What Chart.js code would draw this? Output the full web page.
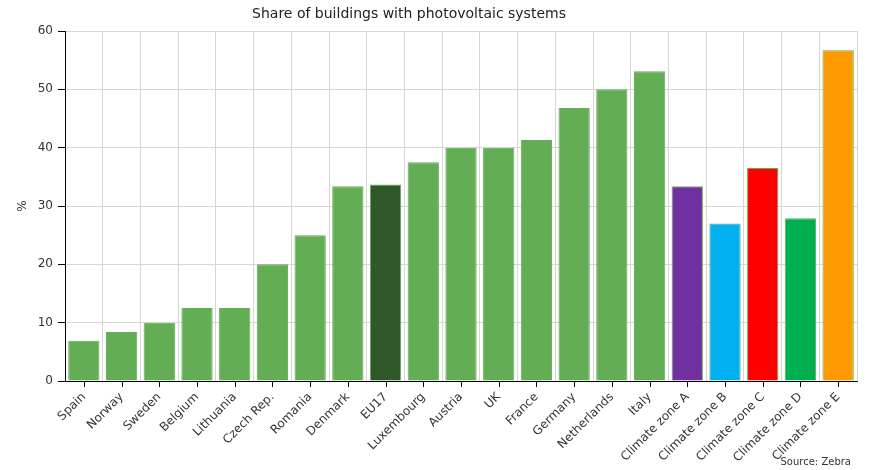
<!DOCTYPE html>
<html><head><meta charset="utf-8">
<script src="https://cdn.jsdelivr.net/npm/chart.js@4"></script>
<style>html,body{margin:0;padding:0;background:#fff}#wrap{width:878px;height:470px;position:relative}</style>
</head><body><div id="wrap"><canvas id="c" width="878" height="470"></canvas></div>
<script>
const categories = ["Spain","Norway","Sweden","Belgium","Lithuania","Czech Rep.","Romania","Denmark","EU17","Luxembourg","Austria","UK","France","Germany","Netherlands","Italy","Climate zone A","Climate zone B","Climate zone C","Climate zone D","Climate zone E"];
const shareValues = [6.9,8.4,10,12.5,12.5,20,25,33.4,33.7,37.5,40,40,41.3,46.8,50,53.1,33.4,27,36.5,27.9,56.7];
const yTicks = [0,10,20,30,40,50,60];
const titleText = "Share of buildings with photovoltaic systems";
const yAxisLabel = "%";
const sourceText = "Source: Zebra";

const barColors = categories.map(c => {
  if (c === "EU17") return "#2f5728";
  if (c === "Climate zone A") return "#7030a0";
  if (c === "Climate zone B") return "#00b0f0";
  if (c === "Climate zone C") return "#ff0000";
  if (c === "Climate zone D") return "#00b050";
  if (c === "Climate zone E") return "#ff9900";
  return "#63ad55";
});

const FONT = "'DejaVu Sans', Verdana, sans-serif";
Chart.defaults.font.family = FONT;
Chart.defaults.color = "#333";

const extras = {
  id: "extras",
  afterDraw(chart) {
    const ctx = chart.ctx;
    const x = chart.scales.x;
    const area = chart.chartArea;
    ctx.save();
    ctx.strokeStyle = "#000";
    ctx.lineWidth = 1;
    ctx.beginPath();
    for (let i = 0; i < categories.length; i++) {
      const px = Math.round(x.getPixelForValue(i)) + 0.5;
      ctx.moveTo(px, area.bottom);
      ctx.lineTo(px, area.bottom + 6);
    }
    ctx.stroke();
    ctx.fillStyle = "#222";
    ctx.font = "14px " + FONT;
    ctx.textAlign = "center";
    ctx.textBaseline = "middle";
    ctx.fillText(titleText, 409, 14);
    ctx.font = "12px " + FONT;
    ctx.translate(23, 206);
    ctx.rotate(-Math.PI / 2);
    ctx.fillStyle = "#333";
    ctx.fillText(yAxisLabel, 0, 0);
    ctx.restore();
    ctx.save();
    ctx.fillStyle = "#333";
    ctx.font = "10px " + FONT;
    ctx.textAlign = "right";
    ctx.textBaseline = "middle";
    ctx.fillText(sourceText, 851, 462);
    ctx.restore();
  }
};

new Chart(document.getElementById("c"), {
  type: "bar",
  data: {
    labels: categories,
    datasets: [{
      data: shareValues,
      backgroundColor: barColors,
      borderColor: "#63ad55",
      borderWidth: 1,
      barPercentage: 0.83,
      categoryPercentage: 1
    }]
  },
  options: {
    responsive: false,
    animation: false,
    layout: { padding: { top: 31, right: 21, left: 0, bottom: 0 } },
    plugins: { legend: { display: false }, title: { display: false }, tooltip: { enabled: false } },
    scales: {
      x: {
        offset: true,
        grid: { offset: true, color: "#d6d6d6", drawTicks: false },
        border: { color: "#000", width: 1 },
        ticks: { maxRotation: 45, minRotation: 45, autoSkip: false, padding: 9, font: { size: 12 }, color: "#333" },
        afterFit(s) { s.height = 89; }
      },
      y: {
        min: 0, max: 60,
        afterBuildTicks(s) { s.ticks = yTicks.map(v => ({ value: v })); },
        grid: { color: "#d6d6d6", tickLength: 7, tickColor: "#000" },
        border: { color: "#000", width: 1 },
        ticks: { padding: 5, font: { size: 12 }, color: "#333" },
        afterFit(s) { s.width = 65; }
      }
    }
  },
  plugins: [extras]
});
</script></body></html>
